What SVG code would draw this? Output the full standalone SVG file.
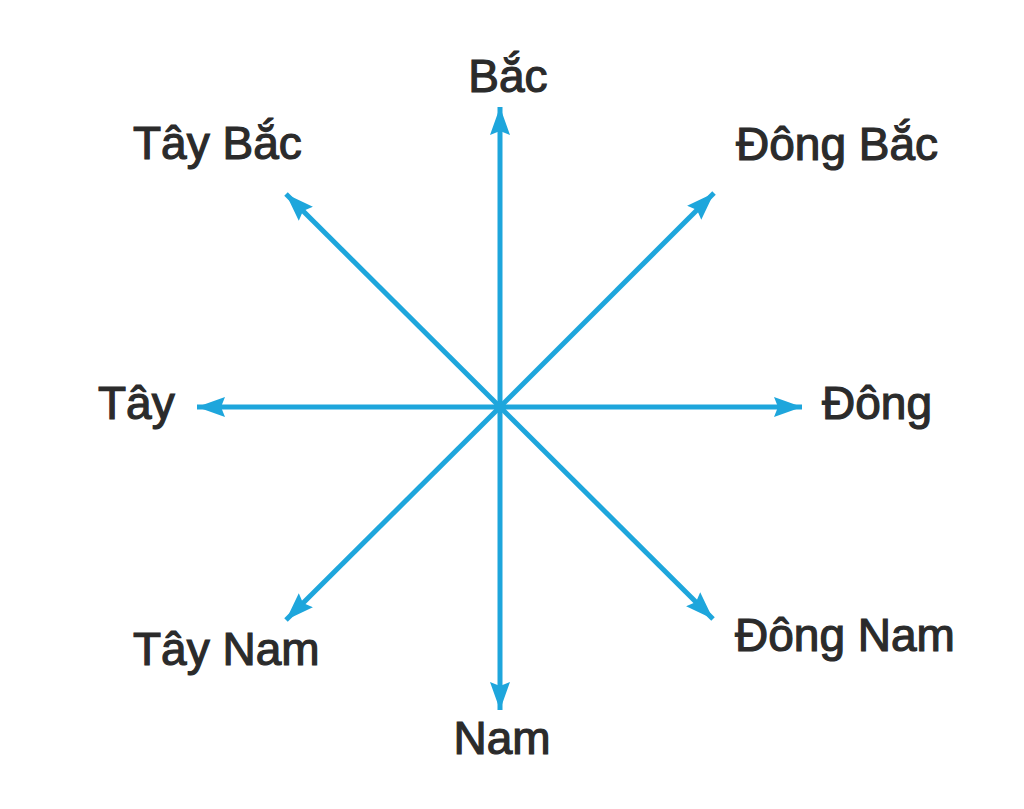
<svg xmlns="http://www.w3.org/2000/svg" width="1024" height="809" viewBox="0 0 1024 809">
<defs>
<style>
.lbl{font-family:"Liberation Sans",Arial,sans-serif;font-size:46px;fill:#2b2b2b;stroke:#2b2b2b;stroke-width:1.2px}
.ax{stroke:#1ea6dc;stroke-width:5;fill:none;marker-end:url(#ah)}
</style>
<marker id="ah" markerUnits="userSpaceOnUse" markerWidth="30" markerHeight="24" refX="28" refY="12" orient="auto" viewBox="0 0 30 24">
<path d="M0,2 L28,12 L0,22 L4,12 Z" fill="#1ea6dc"/>
</marker>
</defs>
<rect width="1024" height="809" fill="#ffffff"/>
<g id="connectors">
<line class="ax" x1="500" y1="407" x2="500" y2="107"/>
<line class="ax" x1="500" y1="407" x2="500" y2="710"/>
<line class="ax" x1="500" y1="407" x2="197" y2="407"/>
<line class="ax" x1="500" y1="407" x2="802" y2="407"/>
<line class="ax" x1="500" y1="407" x2="286" y2="194"/>
<line class="ax" x1="500" y1="407" x2="714" y2="193"/>
<line class="ax" x1="500" y1="407" x2="286" y2="620"/>
<line class="ax" x1="500" y1="407" x2="713" y2="619"/>
<circle cx="500" cy="407" r="6" fill="#1ea6dc"/>
</g>
<g id="bac"><text class="lbl" x="508" y="92" text-anchor="middle">Bắc</text></g>
<g id="tay-bac"><text class="lbl" x="133" y="159">Tây Bắc</text></g>
<g id="dong-bac"><text class="lbl" x="736" y="160">Đông Bắc</text></g>
<g id="tay"><text class="lbl" x="98" y="419">Tây</text></g>
<g id="dong"><text class="lbl" x="822" y="419">Đông</text></g>
<g id="tay-nam"><text class="lbl" x="133" y="665">Tây Nam</text></g>
<g id="dong-nam"><text class="lbl" x="735" y="651">Đông Nam</text></g>
<g id="nam"><text class="lbl" x="502" y="754" text-anchor="middle">Nam</text></g>
</svg>
